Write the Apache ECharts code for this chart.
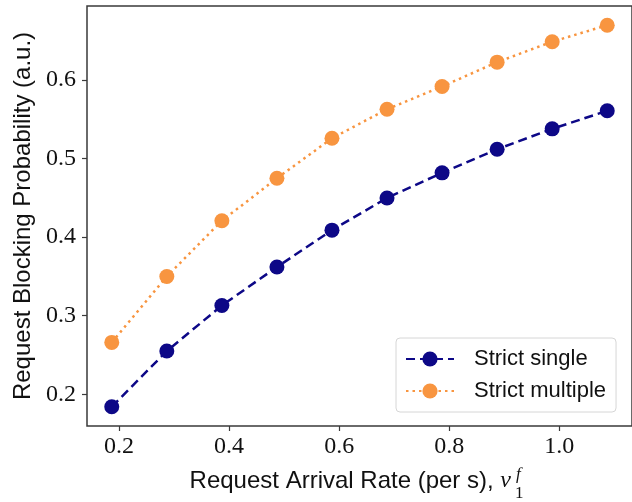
<!DOCTYPE html>
<html>
<head>
<meta charset="utf-8">
<script src="https://cdn.jsdelivr.net/npm/echarts@6/dist/echarts.min.js"></script>
<style>
  html, body { margin: 0; padding: 0; background: #fff; }
  #chart { width: 632px; height: 502px; }
</style>
</head>
<body>
<div id="chart"></div>
<script>
// Request arrival rates (per s) and blocking probabilities for both policies
const arrivalRates = [0.187, 0.287, 0.387, 0.487, 0.587, 0.687, 0.787, 0.887, 0.987, 1.087];
const strictSingle = [0.184, 0.255, 0.313, 0.362, 0.409, 0.450, 0.482, 0.512, 0.538, 0.561];
const strictMultiple = [0.266, 0.350, 0.421, 0.475, 0.526, 0.563, 0.592, 0.623, 0.649, 0.670];
const seriesNames = ['Strict single', 'Strict multiple'];
const xTicks = [0.2, 0.4, 0.6, 0.8, 1.0];
const yTicks = [0.2, 0.3, 0.4, 0.5, 0.6];

const SANS = '"Liberation Sans", Arial, sans-serif';
const SERIF = '"Liberation Serif", "Times New Roman", serif';
const SPINE = '#3a3a3a';

const chart = echarts.init(document.getElementById('chart'), null, { renderer: 'canvas' });

const pairs = (xs, ys) => xs.map((x, i) => [x, ys[i]]);

chart.setOption({
  animation: false,
  backgroundColor: '#fff',
  grid: {
    left: 87, top: 6, right: -4, bottom: 76,
    show: true, borderColor: SPINE, borderWidth: 1.5, backgroundColor: 'transparent'
  },
  xAxis: {
    type: 'value',
    min: 0.142, max: 1.132,
    axisLine: { show: false },
    splitLine: { show: false },
    axisTick: { show: true, length: 5, customValues: xTicks, lineStyle: { color: SPINE, width: 1.2 } },
    axisLabel: {
      customValues: xTicks, margin: 9,
      formatter: v => v.toFixed(1),
      fontFamily: SERIF, fontSize: 24, color: '#111'
    }
  },
  yAxis: {
    type: 'value',
    min: 0.1595, max: 0.6945,
    name: 'Request Blocking Probability (a.u.)',
    nameLocation: 'middle', nameRotate: 90, nameGap: 52,
    nameTextStyle: { fontFamily: SANS, fontSize: 24, color: '#111' },
    axisLine: { show: false },
    splitLine: { show: false },
    axisTick: { show: true, length: 5, customValues: yTicks, lineStyle: { color: SPINE, width: 1.2 } },
    axisLabel: {
      customValues: yTicks, margin: 11,
      formatter: v => v.toFixed(1),
      fontFamily: SERIF, fontSize: 24, color: '#111'
    }
  },
  legend: {
    data: seriesNames,
    orient: 'vertical',
    left: 396, top: 338,
    padding: [10, 10, 10, 9],
    itemWidth: 48, itemHeight: 19, itemGap: 10,
    backgroundColor: '#fff',
    borderColor: '#d6d6d6', borderWidth: 1, borderRadius: 4,
    textStyle: { fontFamily: SANS, fontSize: 22, lineHeight: 22, color: '#111', padding: [0, 0, 0, 15] }
  },
  graphic: [
    {
      type: 'text', x: 511, y: 481,
      style: {
        text: '{t|Request Arrival Rate (per s), }{nu|ν}',
        align: 'right', verticalAlign: 'middle',
        rich: {
          t: { fontFamily: SANS, fontSize: 24, fill: '#111' },
          nu: { fontFamily: SERIF, fontStyle: 'italic', fontSize: 24, fill: '#111' }
        }
      }
    },
    {
      type: 'text', x: 515, y: 494,
      style: { text: '1', fontFamily: SERIF, fontSize: 17, fill: '#111', align: 'left', verticalAlign: 'middle' }
    },
    {
      type: 'text', x: 516, y: 475,
      style: { text: 'f', fontFamily: SERIF, fontStyle: 'italic', fontSize: 17, fill: '#111', align: 'left', verticalAlign: 'middle' }
    }
  ],
  series: [
    {
      name: seriesNames[0],
      type: 'line',
      data: pairs(arrivalRates, strictSingle),
      symbol: 'circle', symbolSize: 15,
      itemStyle: { color: '#0d0887' },
      lineStyle: { color: '#0d0887', width: 2.5, type: [9, 5] }
    },
    {
      name: seriesNames[1],
      type: 'line',
      data: pairs(arrivalRates, strictMultiple),
      symbol: 'circle', symbolSize: 15,
      itemStyle: { color: '#f89540' },
      lineStyle: { color: '#f89540', width: 2.5, type: [2.5, 4] }
    }
  ]
});
</script>
</body>
</html>
